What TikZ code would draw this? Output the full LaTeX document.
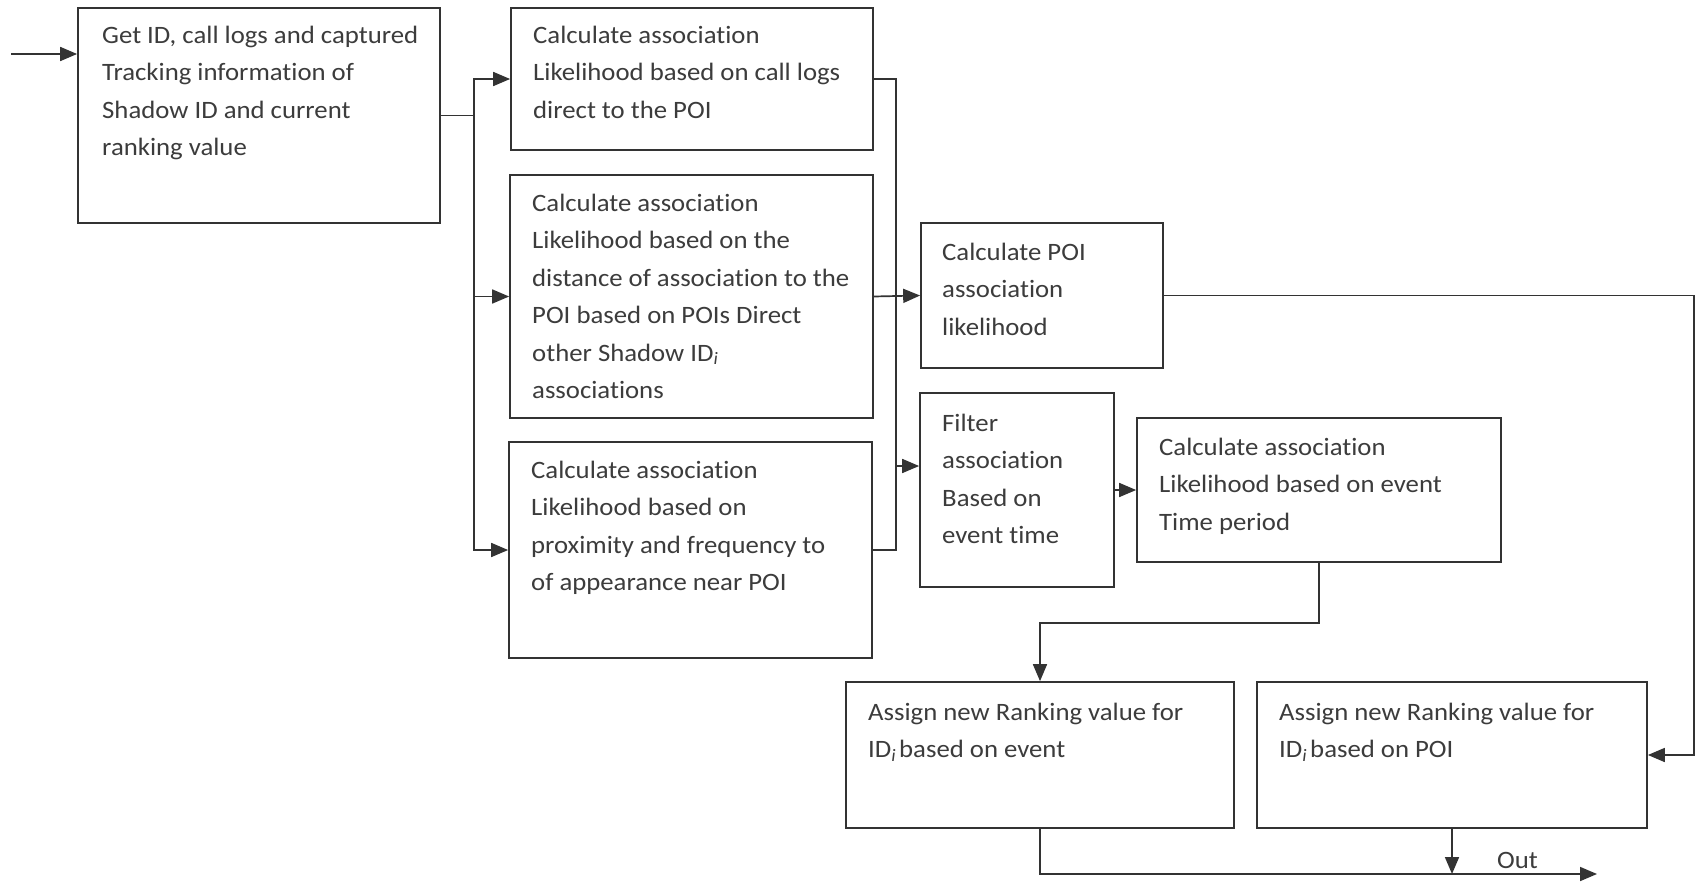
\documentclass[tikz,border=0pt]{standalone}
\usepackage{fontspec}
\setmainfont[FakeStretch=1.07,Ligatures={NoCommon}]{Carlito}
\usetikzlibrary{arrows.meta}
\definecolor{ln}{HTML}{333333}
\definecolor{tx}{HTML}{3C3C3C}
\newcommand{\sub}{\textsubscript{\textit{i}}}
\begin{document}
\begin{tikzpicture}[x=1pt,y=-1pt,
  boxst/.style={draw=ln, line width=1.7pt, inner sep=0pt, fill=none},
  txt/.style={inner sep=0pt, align=left, text=tx, font=\fontsize{25}{37.5}\selectfont},
  wire/.style={draw=ln, line width=1.7pt},
  arr/.style={wire, -{Triangle[length=17pt,width=14pt]}}]
\useasboundingbox[fill=white] (0,0) rectangle (1701,886);
% boxes
\node[boxst, minimum width=362pt, minimum height=215pt] (b1) at (259,115.5) {};
\node[boxst, minimum width=362pt, minimum height=142pt] (b2) at (692,79) {};
\node[boxst, minimum width=363pt, minimum height=243pt] (b3) at (691.5,296.5) {};
\node[boxst, minimum width=363pt, minimum height=216pt] (b4) at (690.5,550) {};
\node[boxst, minimum width=242pt, minimum height=145pt] (b5) at (1042,295.5) {};
\node[boxst, minimum width=194pt, minimum height=194pt] (b6) at (1017,490) {};
\node[boxst, minimum width=364pt, minimum height=144pt] (b7) at (1319,490) {};
\node[boxst, minimum width=388pt, minimum height=146pt] (b8) at (1040,755) {};
\node[boxst, minimum width=390pt, minimum height=146pt] (b9) at (1452,755) {};
% texts
\node[txt, anchor=north west] (t1) at (102,13) {\rule{0pt}{30pt}Get ID, call logs and captured\\Tracking information of\\Shadow ID and current\\ranking value};
\node[txt, anchor=north west] (t2) at (533,13) {\rule{0pt}{30pt}Calculate association\\Likelihood based on call logs\\direct to the POI};
\node[txt, anchor=north west] (t3) at (532,181) {\rule{0pt}{30pt}Calculate association\\Likelihood based on the\\distance of association to the\\POI based on POIs Direct\\other Shadow ID\sub\\associations};
\node[txt, anchor=north west] (t4) at (531,448) {\rule{0pt}{30pt}Calculate association\\Likelihood based on\\proximity and frequency to\\of appearance near POI};
\node[txt, anchor=north west] (t5) at (942,230) {\rule{0pt}{30pt}Calculate POI\\association\\likelihood};
\node[txt, anchor=north west] (t6) at (942,401) {\rule{0pt}{30pt}Filter\\association\\Based on\\event time};
\node[txt, anchor=north west] (t7) at (1159,425) {\rule{0pt}{30pt}Calculate association\\Likelihood based on event\\Time period};
\node[txt, anchor=north west] (t8) at (868,690) {\rule{0pt}{30pt}Assign new Ranking value for\\ID\sub\hspace{0.12em}based on event};
\node[txt, anchor=north west] (t9) at (1279,690) {\rule{0pt}{30pt}Assign new Ranking value for\\ID\sub\hspace{0.12em}based on POI};
\node[txt, anchor=base west] (tout) at (1497,868) {Out};
% connectors
\coordinate (in) at (11,54);
\draw[arr] (in) -- (in -| b1.west);
\coordinate (jL) at (474,115.5);
\draw[wire] (b1.east) -- (jL);
\draw[arr] (jL) |- (b2.west);
\draw[arr] (jL) |- (b4.west);
\draw[arr] (jL |- b3.west) -- (b3.west);
\coordinate (jR) at (896,296.5);
\draw[wire] (b2.east) -| (jR);
\draw[wire] (b4.east) -| (jR);
\draw[arr] (b3.east) -- (b5.west);
\coordinate (jF) at (896,466);
\draw[arr] (jF) -- (jF -| b6.west);
\draw[arr] (b6.east) -- (b7.west);
\coordinate (k) at (1040,623);
\draw[arr] (b7.south) |- (k) -- (b8.north);
\coordinate (r) at (1694,295.5);
\draw[arr] (b5.east) -- (r) |- (b9.east);
\coordinate (outE) at (1597,874);
\draw[arr] (b8.south) |- (outE);
\draw[arr] (b9.south) -- (b9.south |- outE);
\end{tikzpicture}
\end{document}
